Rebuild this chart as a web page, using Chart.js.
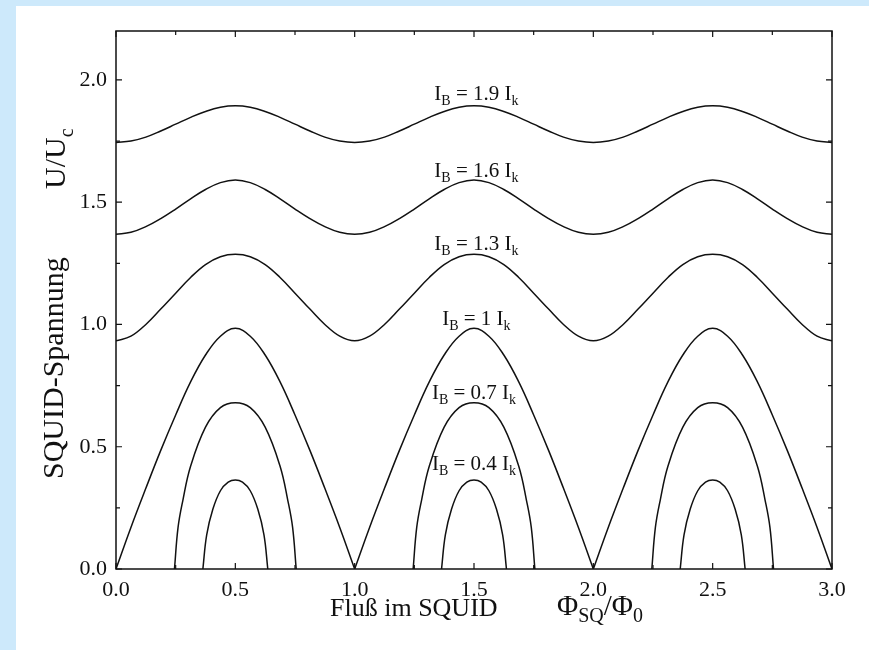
<!DOCTYPE html>
<html>
<head>
<meta charset="utf-8">
<script src="https://cdn.jsdelivr.net/npm/chart.js@4/dist/chart.umd.min.js"></script>
<style>
  html, body { margin: 0; padding: 0; background: #cde9fb; }
  canvas { display: block; }
</style>
</head>
<body>
<canvas id="squid" width="869" height="650"></canvas>
<script>
// Fluss Phi_SQ/Phi_0 und SQUID-Spannung U/U_c

// gemeinsame Flusswerte fuer die welligen Kurven
const phiFine = [0, 0.0625, 0.125, 0.1875, 0.25, 0.3125, 0.375, 0.4375,
                 0.5, 0.5625, 0.625, 0.6875, 0.75, 0.8125, 0.875, 0.9375,
                 1, 1.0625, 1.125, 1.1875, 1.25, 1.3125, 1.375, 1.4375,
                 1.5, 1.5625, 1.625, 1.6875, 1.75, 1.8125, 1.875, 1.9375,
                 2, 2.0625, 2.125, 2.1875, 2.25, 2.3125, 2.375, 2.4375,
                 2.5, 2.5625, 2.625, 2.6875, 2.75, 2.8125, 2.875, 2.9375, 3];

// I_B = 1.9 I_k
const u19 = [1.744, 1.750, 1.766, 1.791, 1.819, 1.847, 1.871, 1.888,
             1.894, 1.888, 1.871, 1.847, 1.819, 1.791, 1.766, 1.750,
             1.744, 1.750, 1.766, 1.791, 1.819, 1.847, 1.871, 1.888,
             1.894, 1.888, 1.871, 1.847, 1.819, 1.791, 1.766, 1.750,
             1.744, 1.750, 1.766, 1.791, 1.819, 1.847, 1.871, 1.888,
             1.894, 1.888, 1.871, 1.847, 1.819, 1.791, 1.766, 1.750, 1.744];

// I_B = 1.6 I_k
const u16 = [1.369, 1.377, 1.400, 1.433, 1.472, 1.514, 1.552, 1.580,
             1.591, 1.580, 1.552, 1.514, 1.472, 1.433, 1.400, 1.377,
             1.369, 1.377, 1.400, 1.433, 1.472, 1.514, 1.552, 1.580,
             1.591, 1.580, 1.552, 1.514, 1.472, 1.433, 1.400, 1.377,
             1.369, 1.377, 1.400, 1.433, 1.472, 1.514, 1.552, 1.580,
             1.591, 1.580, 1.552, 1.514, 1.472, 1.433, 1.400, 1.377, 1.369];

// I_B = 1.3 I_k
const u13 = [0.933, 0.952, 1.000, 1.063, 1.128, 1.192, 1.245, 1.277,
             1.287, 1.277, 1.245, 1.192, 1.128, 1.063, 1.000, 0.952,
             0.933, 0.952, 1.000, 1.063, 1.128, 1.192, 1.245, 1.277,
             1.287, 1.277, 1.245, 1.192, 1.128, 1.063, 1.000, 0.952,
             0.933, 0.952, 1.000, 1.063, 1.128, 1.192, 1.245, 1.277,
             1.287, 1.277, 1.245, 1.192, 1.128, 1.063, 1.000, 0.952, 0.933];

// I_B = 1 I_k (Spitzen bei ganzzahligem Fluss, daher null als Trennung)
const phi10 = [0, 0.0625, 0.125, 0.1875, 0.25, 0.3125, 0.375, 0.4375, 0.5,
               0.5625, 0.625, 0.6875, 0.75, 0.8125, 0.875, 0.9375, 1, 1,
               1, 1.0625, 1.125, 1.1875, 1.25, 1.3125, 1.375, 1.4375, 1.5,
               1.5625, 1.625, 1.6875, 1.75, 1.8125, 1.875, 1.9375, 2, 2,
               2, 2.0625, 2.125, 2.1875, 2.25, 2.3125, 2.375, 2.4375, 2.5,
               2.5625, 2.625, 2.6875, 2.75, 2.8125, 2.875, 2.9375, 3];
const u10 = [0, 0.17, 0.33, 0.485, 0.63, 0.765, 0.875, 0.952, 0.984,
             0.952, 0.875, 0.765, 0.63, 0.485, 0.33, 0.17, 0, null,
             0, 0.17, 0.33, 0.485, 0.63, 0.765, 0.875, 0.952, 0.984,
             0.952, 0.875, 0.765, 0.63, 0.485, 0.33, 0.17, 0, null,
             0, 0.17, 0.33, 0.485, 0.63, 0.765, 0.875, 0.952, 0.984,
             0.952, 0.875, 0.765, 0.63, 0.485, 0.33, 0.17, 0];

// I_B = 0.7 I_k
const phi07 = [0.245, 0.26, 0.28, 0.3125, 0.375, 0.4375, 0.5, 0.5625, 0.625, 0.6875, 0.72, 0.74, 0.755, 1,
               1.245, 1.26, 1.28, 1.3125, 1.375, 1.4375, 1.5, 1.5625, 1.625, 1.6875, 1.72, 1.74, 1.755, 2,
               2.245, 2.26, 2.28, 2.3125, 2.375, 2.4375, 2.5, 2.5625, 2.625, 2.6875, 2.72, 2.74, 2.755];
const u07 = [0, 0.17, 0.28, 0.42, 0.58, 0.66, 0.68, 0.66, 0.58, 0.42, 0.28, 0.17, 0, null,
             0, 0.17, 0.28, 0.42, 0.58, 0.66, 0.68, 0.66, 0.58, 0.42, 0.28, 0.17, 0, null,
             0, 0.17, 0.28, 0.42, 0.58, 0.66, 0.68, 0.66, 0.58, 0.42, 0.28, 0.17, 0];

// I_B = 0.4 I_k
const phi04 = [0.364, 0.38, 0.406, 0.4375, 0.47, 0.5, 0.53, 0.5625, 0.594, 0.62, 0.636, 1,
               1.364, 1.38, 1.406, 1.4375, 1.47, 1.5, 1.53, 1.5625, 1.594, 1.62, 1.636, 2,
               2.364, 2.38, 2.406, 2.4375, 2.47, 2.5, 2.53, 2.5625, 2.594, 2.62, 2.636];
const u04 = [0, 0.14, 0.245, 0.32, 0.355, 0.364, 0.355, 0.32, 0.245, 0.14, 0, null,
             0, 0.14, 0.245, 0.32, 0.355, 0.364, 0.355, 0.32, 0.245, 0.14, 0, null,
             0, 0.14, 0.245, 0.32, 0.355, 0.364, 0.355, 0.32, 0.245, 0.14, 0];

// Beschriftung der Kurven
const curveNames = ['1.9', '1.6', '1.3', '1', '0.7', '0.4'];
const labelPhi = [1.51, 1.51, 1.51, 1.51, 1.5, 1.5];
const labelU = [1.947, 1.632, 1.333, 1.027, 0.724, 0.434];

const minorStep = 0.25;

function pts(xs, ys) {
  return xs.map((x, i) => ({ x: x, y: ys[i] }));
}

const serif = '"Liberation Serif", "DejaVu Serif", serif';

// Text mit Tiefstellungen: parts = [[text, sub], ...]
function drawParts(c, parts, x, y, size) {
  let cx = x;
  for (const [t, sub] of parts) {
    c.font = (sub ? Math.round(size * 0.68) : size) + 'px ' + serif;
    c.fillText(t, cx, sub ? y + size * 0.25 : y);
    cx += c.measureText(t).width;
  }
}
function partsWidth(c, parts, size) {
  let w = 0;
  for (const [t, sub] of parts) {
    c.font = (sub ? Math.round(size * 0.68) : size) + 'px ' + serif;
    w += c.measureText(t).width;
  }
  return w;
}

const squidPlugin = {
  id: 'squidPlugin',
  beforeDraw(chart) {
    const c = chart.ctx;
    c.save();
    c.fillStyle = '#cde9fb';
    c.fillRect(0, 0, chart.width, chart.height);
    c.fillStyle = '#ffffff';
    c.fillRect(16, 6, chart.width - 16, chart.height - 6);
    c.restore();
  },
  afterDraw(chart) {
    const c = chart.ctx;
    const a = chart.chartArea;
    const sx = chart.scales.x, sy = chart.scales.y;
    c.save();
    c.strokeStyle = '#111';
    c.lineWidth = 1.5;
    c.strokeRect(a.left, a.top, a.right - a.left, a.bottom - a.top);

    // Striche nach innen
    c.lineWidth = 1.2;
    c.beginPath();
    for (let v = 0; v <= 3.0001; v += minorStep) {
      const px = sx.getPixelForValue(v);
      const len = Math.abs(v * 2 - Math.round(v * 2)) < 1e-6 ? 6 : 4;
      c.moveTo(px, a.bottom); c.lineTo(px, a.bottom - len);
      c.moveTo(px, a.top); c.lineTo(px, a.top + len);
    }
    for (let v = 0; v <= 2.2; v += minorStep) {
      const py = sy.getPixelForValue(v);
      const len = Math.abs(v * 2 - Math.round(v * 2)) < 1e-6 ? 6 : 4;
      c.moveTo(a.left, py); c.lineTo(a.left + len, py);
      c.moveTo(a.right, py); c.lineTo(a.right - len, py);
    }
    c.stroke();

    c.fillStyle = '#111';
    c.textBaseline = 'alphabetic';
    c.textAlign = 'left';

    // Kurvenbeschriftungen
    const ls = 21;
    curveNames.forEach((n, i) => {
      const parts = [['I', false], ['B', true], [' = ' + n + ' I', false], ['k', true]];
      const w = partsWidth(c, parts, ls);
      const px = sx.getPixelForValue(labelPhi[i]);
      const py = sy.getPixelForValue(labelU[i]);
      drawParts(c, parts, px - w / 2, py + 7, ls);
    });

    // x-Achsentitel
    drawParts(c, [['Fluß im SQUID', false]], 330, 616, 26);
    drawParts(c, [['Φ', false], ['SQ', true], ['/Φ', false], ['0', true]], 557, 615, 29);

    // y-Achsentitel, gedreht
    c.save();
    c.translate(63, 479);
    c.rotate(-Math.PI / 2);
    drawParts(c, [['SQUID-Spannung', false]], 0, 0, 30);
    c.restore();
    c.save();
    c.translate(65, 189);
    c.rotate(-Math.PI / 2);
    drawParts(c, [['U/U', false], ['c', true]], 0, 0, 30);
    c.restore();

    c.restore();
  }
};

const tickFont = { family: serif, size: 22 };

new Chart(document.getElementById('squid'), {
  type: 'line',
  data: {
    datasets: [
      { label: '1.9', data: pts(phiFine, u19) },
      { label: '1.6', data: pts(phiFine, u16) },
      { label: '1.3', data: pts(phiFine, u13) },
      { label: '1', data: pts(phi10, u10) },
      { label: '0.7', data: pts(phi07, u07) },
      { label: '0.4', data: pts(phi04, u04) }
    ]
  },
  options: {
    responsive: false,
    animation: false,
    spanGaps: false,
    layout: { padding: { top: 31, right: 37, left: 0, bottom: 0 } },
    plugins: { legend: { display: false }, tooltip: { enabled: false } },
    elements: {
      point: { radius: 0 },
      line: { borderColor: '#111', borderWidth: 1.5, tension: 0.4, fill: false }
    },
    scales: {
      x: {
        type: 'linear', min: 0, max: 3,
        grid: { display: false, drawTicks: false },
        border: { display: false },
        ticks: { stepSize: 0.5, padding: 8, color: '#111', font: tickFont, maxRotation: 0, autoSkip: false,
                 callback: v => v.toFixed(1) },
        afterFit: s => { s.height = 81; }
      },
      y: {
        type: 'linear', min: 0, max: 2.2,
        grid: { display: false, drawTicks: false },
        border: { display: false },
        ticks: { stepSize: 0.5, includeBounds: false, padding: 9, color: '#111', font: tickFont,
                 callback: v => v.toFixed(1) },
        afterFit: s => { s.width = 116; }
      }
    }
  },
  plugins: [squidPlugin]
});
</script>
</body>
</html>
